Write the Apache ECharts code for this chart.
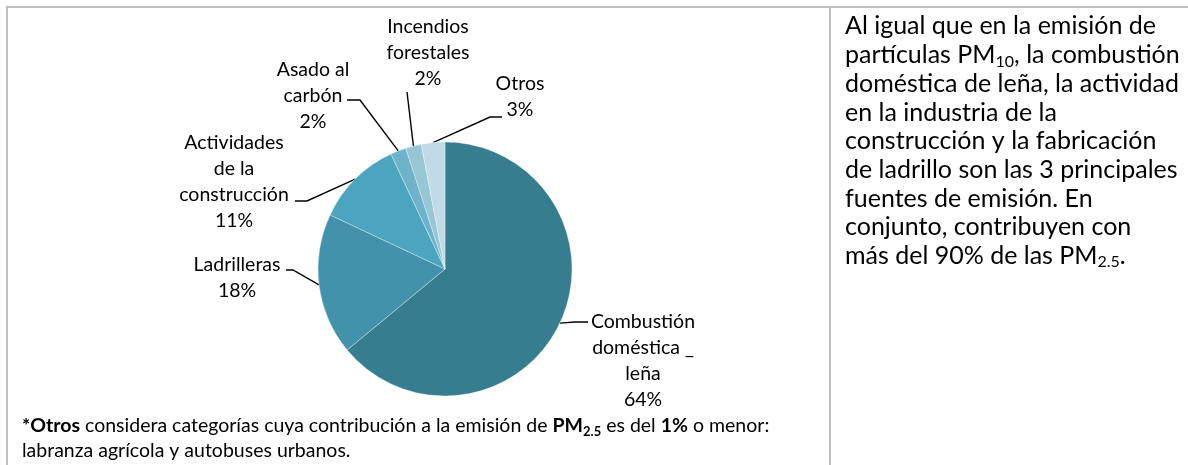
<!DOCTYPE html>
<html>
<head>
<meta charset="utf-8">
<script src="https://cdn.jsdelivr.net/npm/echarts@6/dist/echarts.min.js"></script>
<style>
  html, body { margin: 0; padding: 0; background: #fff; }
  #main { width: 1188px; height: 465px; }
</style>
</head>
<body>
<div id="main"></div>
<script>
// data
var categories = ['Combustión\ndoméstica _\nleña', 'Ladrilleras', 'Actividades\nde la\nconstrucción', 'Asado al\ncarbón', 'Incendios\nforestales', 'Otros']
var shares = [64, 18, 11, 2, 2, 3]
var sliceColors = ['#367d90', '#4192aa', '#4ba5be', '#6eb3c9', '#97c6d5', '#c0dbe5']

// where each label sits and how its leader line bends (Excel "best fit" look)
var labelCenters = [[643, 361], [237, 278], [234, 182], [313, 96], [428, 53], [520, 97]]
var leaderBends = [
  [[575, 322], [588, 322]],
  [[293, 270], [286, 270]],
  [[307, 201], [295, 201]],
  [[360, 100], [347, 100]],
  [[407, 92], [407, 92]],
  [[490, 117], [502, 117]]
]

var FONT = 'Lato'
var chart = echarts.init(document.getElementById('main'))

var pieData = []
categories.forEach((name, i) => {
  pieData.push({ name: name, value: shares[i], itemStyle: { color: sliceColors[i] } })
});

var sideText = 'Al igual que en la emisión de\n' +
  'partículas PM{sub|10}, la combustión\n' +
  'doméstica de leña, la actividad\n' +
  'en la industria de la\n' +
  'construcción y la fabricación\n' +
  'de ladrillo son las 3 principales\n' +
  'fuentes de emisión. En\n' +
  'conjunto, contribuyen con\n' +
  'más del 90% de las PM{sub|2.5}.'

var noteText = '{b|*Otros} considera categorías cuya contribución a la emisión de {b|PM}{bs|2.5} es del {b|1%} o menor:\n' +
  'labranza agrícola y autobuses urbanos.'

var option = {
  animation: false,
  backgroundColor: '#fff',
  graphic: [
    // table borders
    { type: 'line', shape: { x1: 6, y1: 7, x2: 1188, y2: 7 }, style: { stroke: '#bfbfbf', lineWidth: 2 } },
    { type: 'line', shape: { x1: 7, y1: 6, x2: 7, y2: 465 }, style: { stroke: '#bfbfbf', lineWidth: 2 } },
    { type: 'line', shape: { x1: 830, y1: 7, x2: 830, y2: 465 }, style: { stroke: '#bfbfbf', lineWidth: 2 } },
    {
      type: 'text', left: 845, top: 12,
      style: {
        text: sideText, fill: '#000', font: '25px ' + FONT, lineHeight: 28.7,
        rich: {
          sub: { fontSize: 16, fontFamily: FONT, fill: '#000', verticalAlign: 'bottom', lineHeight: 24 }
        }
      }
    },
    {
      type: 'text', left: 22, top: 413,
      style: {
        text: noteText, fill: '#000', font: '19.5px ' + FONT, lineHeight: 25,
        rich: {
          b: { fontWeight: 'bold', fontSize: 19.5, fontFamily: FONT, fill: '#000' },
          bs: { fontWeight: 'bold', fontSize: 13, fontFamily: FONT, fill: '#000', verticalAlign: 'bottom', lineHeight: 20 }
        }
      }
    }
  ],
  series: [
    {
      type: 'pie',
      center: [445, 269],
      radius: 127,
      startAngle: 90,
      clockwise: true,
      data: pieData,
      itemStyle: { borderColor: 'rgba(255,255,255,0.55)', borderWidth: 0.6 },
      label: {
        show: true,
        position: 'outside',
        formatter: '{b}\n{c}%',
        color: '#000',
        fontFamily: FONT,
        fontSize: 19.5,
        lineHeight: 26,
        align: 'center'
      },
      labelLine: { show: true, lineStyle: { color: '#000', width: 1.4 } },
      labelLayout: function (params) {
        var i = params.dataIndex
        var start = params.labelLinePoints ? params.labelLinePoints[0] : leaderBends[i][0]
        return {
          x: labelCenters[i][0],
          y: labelCenters[i][1],
          align: 'center',
          verticalAlign: 'middle',
          labelLinePoints: [start, leaderBends[i][0], leaderBends[i][1]]
        }
      },
      emphasis: { disabled: true }
    }
  ]
};

chart.setOption(option)
</script>
</body>
</html>
